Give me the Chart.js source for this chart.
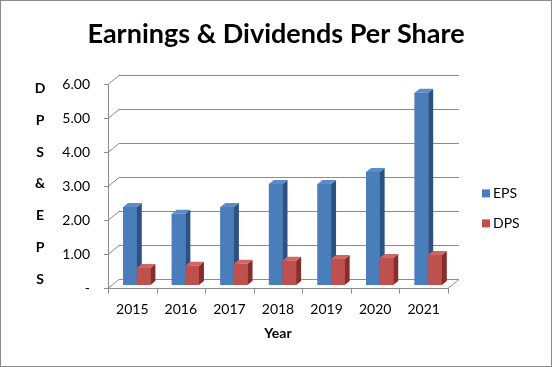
<!DOCTYPE html>
<html>
<head>
<meta charset="utf-8">
<script src="https://cdn.jsdelivr.net/npm/chart.js@4.4.0/dist/chart.umd.min.js"></script>
<style>
  html, body { margin: 0; padding: 0; background: #fff; }
  #wrap { width: 552px; height: 367px; }
</style>
</head>
<body>
<div id="wrap"><canvas id="epsChart" width="552" height="367"></canvas></div>
<script>
// data
var years = ['2015', '2016', '2017', '2018', '2019', '2020', '2021'];
var eps = [2.29, 2.09, 2.29, 2.97, 2.97, 3.32, 5.65];
var dps = [0.50, 0.56, 0.62, 0.71, 0.76, 0.79, 0.88];
var yTitleLetters = ['D', 'P', 'S', '&', 'E', 'P', 'S'];

var FONT = 'Lato, "Open Sans", sans-serif';

// colours: front, side, top
var shades = [
    { front: '#4a7ebb', side: '#2c5283', top: '#5b8cc6' },
    { front: '#c0504d', side: '#872d2a', top: '#cf6663' }
];

// fake 3d look (depth of the wall and of the bars)
var wall = { dx: 11, dy: 9 };
var barDepth = { dx: 5, dy: 4 };
var shift = { dx: 4.5, dy: -3.5 };

function seg(ctx, x1, y1, x2, y2) {
    ctx.beginPath();
    ctx.moveTo(x1, y1);
    ctx.lineTo(x2, y2);
    ctx.stroke();
}

var fake3d = {
    id: 'fake3d',
    beforeDatasetsDraw: function (chart) {
        var ctx = chart.ctx;
        var a = chart.chartArea;
        var y = chart.scales.y;
        ctx.save();
        ctx.strokeStyle = '#8c8c8c';
        ctx.lineWidth = 1;
        y.ticks.forEach(function (t) {
            var py = Math.round(y.getPixelForValue(t.value)) + 0.5;
            ctx.beginPath();
            ctx.moveTo(a.left - 4, py);
            ctx.lineTo(a.left, py);
            ctx.lineTo(a.left + wall.dx, py - wall.dy);
            ctx.lineTo(a.right + wall.dx, py - wall.dy);
            ctx.stroke();
        });
        var lx = Math.round(a.left) + 0.5;
        var by = Math.round(a.bottom) + 0.5;
        seg(ctx, lx, a.top, lx, by);
        seg(ctx, lx, by, a.right, by);
        seg(ctx, a.right, by, a.right + wall.dx, by - wall.dy);
        var n = years.length;
        for (var i = 0; i <= n; i++) {
            var px = Math.round(a.left + i * a.width / n) + 0.5;
            seg(ctx, px, by, px, by + 5);
        }
        ctx.restore();

        // y axis title, one letter per line
        ctx.save();
        ctx.fillStyle = '#000';
        ctx.font = 'bold 14px ' + FONT;
        ctx.textAlign = 'center';
        ctx.textBaseline = 'middle';
        var top = a.top + 4, bottom = a.bottom - 9;
        var step = (bottom - top) / (yTitleLetters.length - 1);
        yTitleLetters.forEach(function (ch, i) {
            ctx.fillText(ch, 40, top + i * step);
        });
        ctx.restore();

        // legend
        ctx.save();
        ctx.font = '14px ' + FONT;
        ctx.textBaseline = 'middle';
        ctx.fillStyle = '#000';
        chart.data.datasets.forEach(function (ds, i) {
            var ly = a.top + 109 + i * 30;
            ctx.fillStyle = ds.backgroundColor;
            ctx.fillRect(a.right + 34, ly - 4, 8, 8);
            ctx.fillStyle = '#000';
            ctx.fillText(ds.label, a.right + 45, ly);
        });
        ctx.restore();

        ctx.save();
        ctx.translate(shift.dx, shift.dy);
    },
    afterDatasetsDraw: function (chart) {
        var ctx = chart.ctx;
        var metas = [chart.getDatasetMeta(0), chart.getDatasetMeta(1)];
        for (var i = 0; i < years.length; i++) {
            for (var d = 0; d < metas.length; d++) {
                var bar = metas[d].data[i];
                var x0 = bar.x - bar.width / 2, x1 = bar.x + bar.width / 2;
                var top = bar.y, base = bar.base;
                var c = shades[d];
                ctx.fillStyle = c.front;
                ctx.fillRect(x0, top, x1 - x0, base - top);
                ctx.fillStyle = c.side;
                ctx.beginPath();
                ctx.moveTo(x1, top);
                ctx.lineTo(x1 + barDepth.dx, top - barDepth.dy);
                ctx.lineTo(x1 + barDepth.dx, base - barDepth.dy);
                ctx.lineTo(x1, base);
                ctx.closePath();
                ctx.fill();
                ctx.fillStyle = c.top;
                ctx.beginPath();
                ctx.moveTo(x0, top);
                ctx.lineTo(x0 + barDepth.dx, top - barDepth.dy);
                ctx.lineTo(x1 + barDepth.dx, top - barDepth.dy);
                ctx.lineTo(x1, top);
                ctx.closePath();
                ctx.fill();
            }
        }
        ctx.restore();
    },
    afterDraw: function (chart) {
        var ctx = chart.ctx;
        ctx.save();
        ctx.strokeStyle = '#8c8c8c';
        ctx.lineWidth = 1;
        ctx.strokeRect(0.5, 0.5, chart.width - 1, chart.height - 1);
        ctx.restore();
    }
};

var ctx = document.getElementById('epsChart').getContext('2d');
var epsChart = new Chart(ctx, {
    type: 'bar',
    data: {
        labels: years,
        datasets: [{
            label: 'EPS',
            data: eps,
            backgroundColor: shades[0].front
        }, {
            label: 'DPS',
            data: dps,
            backgroundColor: shades[1].front
        }]
    },
    options: {
        responsive: false,
        animation: false,
        categoryPercentage: 0.56,
        barPercentage: 1,
        layout: {
            padding: { left: 0, right: 0, top: 0, bottom: 21 }
        },
        plugins: {
            title: {
                display: true,
                text: 'Earnings & Dividends Per Share',
                color: '#000',
                font: { family: FONT, size: 27, weight: 'bold' },
                padding: { top: 18, bottom: 34 }
            },
            legend: { display: false },
            tooltip: { enabled: false }
        },
        scales: {
            x: {
                grid: { display: false },
                border: { display: false },
                ticks: {
                    color: '#000',
                    font: { family: FONT, size: 14 },
                    padding: 5
                },
                title: {
                    display: true,
                    text: 'Year',
                    color: '#000',
                    font: { family: FONT, size: 14, weight: 'bold' },
                    padding: { top: 2, bottom: 4 }
                }
            },
            y: {
                min: 0,
                max: 6,
                grid: { display: false, drawTicks: false },
                border: { display: false },
                afterFit: function (s) { s.width = 108; },
                ticks: {
                    stepSize: 1,
                    color: '#000',
                    font: { family: FONT, size: 14 },
                    padding: 18,
                    callback: function (v) {
                        return v === 0 ? '-' : v.toFixed(2);
                    }
                }
            },
            // empty axis that keeps room for the legend on the right
            side: {
                position: 'right',
                display: true,
                grid: { display: false },
                border: { display: false },
                ticks: { display: false },
                afterFit: function (s) { s.width = 104; }
            }
        }
    },
    plugins: [fake3d]
});
</script>
</body>
</html>
